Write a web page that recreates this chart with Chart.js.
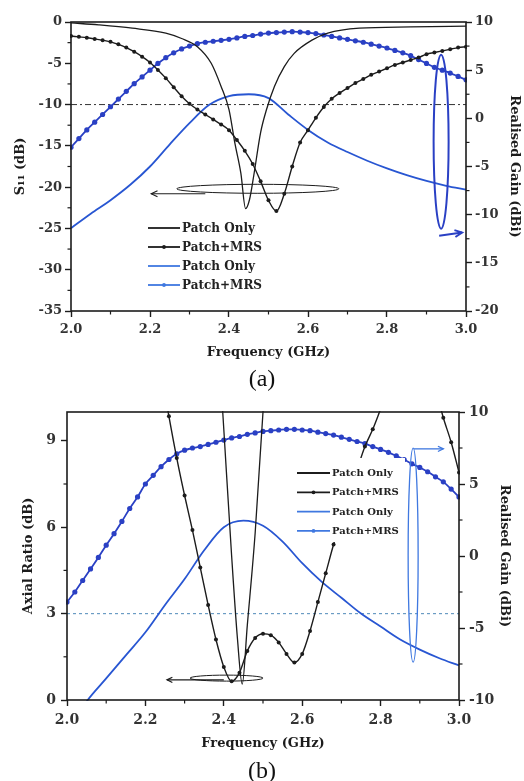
<!DOCTYPE html>
<html>
<head>
<meta charset="utf-8">
<script src="https://cdn.jsdelivr.net/npm/chart.js@4.4.1/dist/chart.umd.min.js"></script>
<style>
  body { margin: 0; background: #fff; width: 524px; height: 781px; position: relative; overflow: hidden; }
  .panel { position: absolute; left: 0; width: 524px; }
  .cap { position: absolute; left: 0; width: 524px; text-align: center; font-family: 'Liberation Serif', serif; font-size: 24px; line-height: 28px; color: #111; }
</style>
</head>
<body>
<div class="panel" style="top:0;height:365px"><canvas id="chartA" width="524" height="365"></canvas></div>
<div class="cap" style="top:364px">(a)</div>
<div class="panel" style="top:390px;height:370px"><canvas id="chartB" width="524" height="370"></canvas></div>
<div class="cap" style="top:756px">(b)</div>
<script>
// ---- data ----
const freqTicks = [2.0, 2.2, 2.4, 2.6, 2.8, 3.0];
const s11Ticks = [0, -5, -10, -15, -20, -25, -30, -35];
const gainTicksA = [10, 5, 0, -5, -10, -15, -20];
const arTicks = [0, 3, 6, 9];
const gainTicksB = [10, 5, 0, -5, -10];

// sweep used by the marked (Patch+MRS) traces
const freqStep = [2.00, 2.02, 2.04, 2.06, 2.08, 2.10, 2.12, 2.14, 2.16, 2.18,
  2.20, 2.22, 2.24, 2.26, 2.28, 2.30, 2.32, 2.34, 2.36, 2.38,
  2.40, 2.42, 2.44, 2.46, 2.48, 2.50, 2.52, 2.54, 2.56, 2.58,
  2.60, 2.62, 2.64, 2.66, 2.68, 2.70, 2.72, 2.74, 2.76, 2.78,
  2.80, 2.82, 2.84, 2.86, 2.88, 2.90, 2.92, 2.94, 2.96, 2.98, 3.00];

// (a) S11, patch only
const s11PatchFreq = [2.00, 2.07, 2.155, 2.24, 2.28, 2.32, 2.355, 2.38, 2.40, 2.415, 2.43, 2.442,
  2.452, 2.463, 2.48, 2.495, 2.515, 2.54, 2.565, 2.61, 2.65, 2.73, 2.86, 3.00];
const s11Patch = [-0.1, -0.35, -0.75, -1.35, -2.0, -3.0, -5.0, -7.8, -10.6, -14.7, -18.3, -22.6,
  -21.5, -18.5, -13.4, -10.6, -7.8, -5.4, -3.8, -2.2, -1.35, -0.75, -0.6, -0.5];
// (a) S11, patch + MRS
const s11Mrs = [-1.7, -1.8, -1.9, -2.05, -2.2, -2.4, -2.7, -3.1, -3.6, -4.2,
  -4.9, -5.8, -6.8, -7.9, -9.0, -9.9, -10.6, -11.2, -11.8, -12.4,
  -13.1, -14.3, -15.6, -17.2, -19.3, -21.6, -22.9, -20.8, -17.5, -14.6,
  -13.1, -11.6, -10.3, -9.3, -8.6, -8.0, -7.4, -6.9, -6.4, -6.0,
  -5.6, -5.2, -4.9, -4.6, -4.3, -3.9, -3.7, -3.5, -3.3, -3.1, -3.0];

// realised gain, patch only (coarser sweep)
const gainFreq = [2.00, 2.05, 2.10, 2.15, 2.20, 2.25, 2.30, 2.35, 2.40, 2.45, 2.50,
  2.55, 2.60, 2.65, 2.70, 2.75, 2.80, 2.85, 2.90, 2.95, 3.00];
const gainPatchA = [-11.4, -9.9, -8.5, -6.9, -5.0, -2.7, -0.5, 1.4, 2.3, 2.5, 2.1,
  0.4, -1.2, -2.5, -3.5, -4.4, -5.2, -5.9, -6.5, -7.0, -7.4];
const gainMrsA = [-3.0, -2.1, -1.2, -0.4, 0.4, 1.2, 2.0, 2.8, 3.6, 4.3,
  5.0, 5.7, 6.3, 6.8, 7.2, 7.5, 7.75, 7.9, 8.0, 8.1,
  8.2, 8.35, 8.5, 8.6, 8.75, 8.85, 8.9, 8.95, 9.0, 8.95,
  8.9, 8.8, 8.65, 8.5, 8.35, 8.2, 8.05, 7.9, 7.7, 7.5,
  7.3, 7.05, 6.8, 6.5, 6.1, 5.7, 5.3, 5.0, 4.7, 4.35, 4.0];

// (b) axial ratio
const arPatchFreq = [2.38, 2.40, 2.42, 2.435, 2.447, 2.46, 2.48, 2.50, 2.52];
const arPatch = [13.8, 9.4, 5.0, 2.1, 0.55, 2.6, 5.8, 10.0, 13.2];
const arMrsFreq = freqStep.slice(12);
const arMrs = [11.4, 9.85, 8.4, 7.1, 5.9, 4.6, 3.3, 2.1, 1.15, 0.65,
  0.95, 1.7, 2.15, 2.3, 2.25, 2.0, 1.6, 1.3, 1.6, 2.4,
  3.4, 4.4, 5.4, 6.3, 7.2, 8.0, 8.8, 9.4, 10.1, 10.8,
  11.4, 11.8, 12.0, 11.9, 11.5, 10.8, 9.8, 8.95, 7.9];
const gainPatchB = [-12.2, -10.1, -8.5, -6.9, -5.3, -3.4, -1.6, 0.4, 2.0, 2.45, 2.1,
  1.0, -0.5, -1.8, -2.9, -4.0, -4.9, -5.8, -6.5, -7.1, -7.6];
const gainMrsB = [-3.2, -2.5, -1.7, -0.9, -0.1, 0.75, 1.55, 2.4, 3.3, 4.1,
  5.0, 5.6, 6.2, 6.7, 7.1, 7.35, 7.5, 7.6, 7.75, 7.9,
  8.05, 8.2, 8.3, 8.45, 8.55, 8.65, 8.7, 8.75, 8.8, 8.8,
  8.75, 8.7, 8.6, 8.5, 8.4, 8.25, 8.1, 7.95, 7.8, 7.6,
  7.4, 7.2, 6.95, 6.7, 6.4, 6.15, 5.85, 5.5, 5.15, 4.65, 4.1];

const s11Limit = -10;
const arLimit = 3;

// ---- styling ----
const FONT = "'DejaVu Serif', serif";
const INK = '#1c1c1c';
const BLUE_DOT = '#2a40c4';
const BLUE_LINE = '#2856d2';
const BLUE_THIN = '#3f78e0';

const pts = (xs, ys) => xs.map((x, i) => ({ x, y: ys[i] }));

function series(label, data, axis, color, width, dot) {
  return {
    label, data, yAxisID: axis,
    borderColor: color, backgroundColor: color, borderWidth: width,
    pointRadius: dot, pointHoverRadius: dot, pointBorderWidth: 0,
    pointBackgroundColor: color,
    cubicInterpolationMode: 'monotone', clip: 1
  };
}

function xAxis(height, labelPad, titlePad, size) {
  return {
    type: 'linear', min: 2, max: 3,
    afterBuildTicks: s => { s.ticks = freqTicks.map(v => ({ value: v })); },
    afterFit: s => { s.height = height; },
    grid: { drawOnChartArea: false, tickLength: 6, tickWidth: 1.4, tickColor: INK },
    border: { display: false },
    ticks: { padding: labelPad, color: '#333', maxRotation: 0, autoSkip: false,
      font: { family: FONT, size, weight: 'bold' }, callback: v => v.toFixed(1) },
    title: { display: true, text: 'Frequency (GHz)', color: INK,
      font: { family: FONT, size: 13, weight: 'bold' }, padding: { top: 0, bottom: titlePad } }
  };
}

function yAxis(pos, min, max, ticks, width, labelPad, title, titlePad, size) {
  return {
    type: 'linear', position: pos, min, max,
    afterBuildTicks: s => { s.ticks = ticks.map(v => ({ value: v })); },
    afterFit: s => { s.width = width; },
    grid: { drawOnChartArea: false, tickLength: 6, tickWidth: 1.4, tickColor: INK },
    border: { display: false },
    ticks: { padding: labelPad, color: '#333',
      font: { family: FONT, size, weight: 'bold' }, callback: v => String(v) },
    title: { display: true, text: title, color: INK,
      font: { family: FONT, size: 13, weight: 'bold' }, padding: { top: titlePad, bottom: titlePad } }
  };
}

function arrowHead(ctx, x1, y1, x2, y2, len) {
  const ang = Math.atan2(y2 - y1, x2 - x1);
  ctx.beginPath();
  ctx.moveTo(x2 - len * Math.cos(ang - 0.45), y2 - len * Math.sin(ang - 0.45));
  ctx.lineTo(x2, y2);
  ctx.lineTo(x2 - len * Math.cos(ang + 0.45), y2 - len * Math.sin(ang + 0.45));
  ctx.stroke();
}

// frame, minor ticks, limit line, in-plot legend and callouts
const decor = {
  id: 'decor',
  beforeDatasetsDraw(chart, args, o) {
    const { ctx, chartArea: a } = chart;
    const r = o.limit;
    const y = chart.scales[r.axis].getPixelForValue(r.value);
    ctx.save();
    ctx.strokeStyle = r.color; ctx.lineWidth = r.width; ctx.setLineDash(r.dash);
    ctx.beginPath(); ctx.moveTo(a.left, y); ctx.lineTo(a.right, y); ctx.stroke();
    ctx.restore();
  },
  afterDatasetsDraw(chart, args, o) {
    const { ctx } = chart;
    const sx = chart.scales.x;
    ctx.save();
    // callouts
    o.callouts.forEach(c => {
      const sy = chart.scales[c.axis];
      ctx.strokeStyle = c.color; ctx.lineWidth = c.width;
      if (c.type === 'ellipse') {
        ctx.beginPath();
        ctx.ellipse(sx.getPixelForValue(c.x), sy.getPixelForValue(c.y), c.rx, c.ry, 0, 0, Math.PI * 2);
        ctx.stroke();
      } else {
        const x1 = sx.getPixelForValue(c.x1), y1 = sy.getPixelForValue(c.y1);
        const x2 = sx.getPixelForValue(c.x2), y2 = sy.getPixelForValue(c.y2);
        ctx.beginPath(); ctx.moveTo(x1, y1); ctx.lineTo(x2, y2); ctx.stroke();
        arrowHead(ctx, x1, y1, x2, y2, c.head);
      }
    });
    // legend
    const L = o.legend;
    if (L.fill) { ctx.fillStyle = '#fff'; ctx.fillRect(L.fill[0], L.fill[1], L.fill[2], L.fill[3]); }
    chart.data.datasets.forEach((ds, i) => {
      const y = L.y + i * L.gap;
      const col = ds.legendColor || ds.borderColor;
      ctx.strokeStyle = col; ctx.lineWidth = 1.8;
      ctx.beginPath(); ctx.moveTo(L.x, y); ctx.lineTo(L.x + L.len, y); ctx.stroke();
      if (ds.pointRadius > 0) {
        ctx.fillStyle = col;
        ctx.beginPath(); ctx.arc(L.x + L.len / 2, y, 1.9, 0, Math.PI * 2); ctx.fill();
      }
      ctx.fillStyle = '#222';
      ctx.font = `bold ${L.size}px ${FONT}`;
      ctx.textBaseline = 'middle';
      ctx.fillText(ds.label, L.x + L.len + 2, y + 0.5);
    });
    ctx.restore();
  },
  afterDraw(chart) {
    const { ctx, chartArea: a } = chart;
    ctx.save();
    ctx.strokeStyle = INK; ctx.lineWidth = 1.6;
    ctx.strokeRect(a.left, a.top, a.width, a.height);
    ctx.lineWidth = 1.2;
    Object.values(chart.scales).forEach(s => {
      const t = s.ticks.map(k => k.value);
      for (let i = 0; i < t.length - 1; i++) {
        const p = s.getPixelForValue((t[i] + t[i + 1]) / 2);
        ctx.beginPath();
        if (s.axis === 'x') { ctx.moveTo(p, a.bottom); ctx.lineTo(p, a.bottom + 3.5); }
        else if (s.position === 'left') { ctx.moveTo(a.left, p); ctx.lineTo(a.left - 3.5, p); }
        else { ctx.moveTo(a.right, p); ctx.lineTo(a.right + 3.5, p); }
        ctx.stroke();
      }
    });
    ctx.restore();
  }
};

function withLegendColor(ds, c) { ds.legendColor = c; return ds; }

// ---- (a) S11 and realised gain ----
new Chart(document.getElementById('chartA'), {
  type: 'line',
  data: {
    datasets: [
      series('Patch Only', pts(s11PatchFreq, s11Patch), 'y', INK, 1.3, 0),
      series('Patch+MRS', pts(freqStep, s11Mrs), 'y', INK, 1.4, 2),
      withLegendColor(series('Patch Only', pts(gainFreq, gainPatchA), 'y2', BLUE_LINE, 1.8, 0), BLUE_THIN),
      withLegendColor(series('Patch+MRS', pts(freqStep, gainMrsA), 'y2', BLUE_DOT, 1.8, 2.6), BLUE_THIN)
    ]
  },
  options: {
    responsive: false, animation: false, events: [],
    layout: { padding: { top: 22, left: 0, right: 0, bottom: 0 } },
    scales: {
      x: xAxis(54, 5, 5, 13),
      y: yAxis('left', -35, 0, s11Ticks, 71, 3, 'S\u2081\u2081 (dB)', 13, 13),
      y2: yAxis('right', -20, 10, gainTicksA, 58, 3, 'Realised Gain (dBi)', 2, 13)
    },
    plugins: {
      legend: { display: false }, tooltip: { enabled: false },
      decor: {
        limit: { axis: 'y', value: s11Limit, color: '#333', width: 1, dash: [6, 3, 2, 3] },
        legend: { x: 148, y: 228, gap: 19, len: 32, size: 12 },
        callouts: [
          { type: 'ellipse', axis: 'y', x: 2.473, y: -20.2, rx: 81, ry: 4.5, color: INK, width: 1 },
          { type: 'arrow', axis: 'y', x1: 2.34, y1: -20.8, x2: 2.203, y2: -20.8, head: 7, color: INK, width: 1.1 },
          { type: 'ellipse', axis: 'y', x: 2.937, y: -14.5, rx: 7.5, ry: 87, color: BLUE_DOT, width: 2 },
          { type: 'arrow', axis: 'y', x1: 2.932, y1: -25.9, x2: 2.99, y2: -25.5, head: 8, color: BLUE_DOT, width: 2 }
        ]
      }
    }
  },
  plugins: [decor]
});

// ---- (b) axial ratio and realised gain ----
new Chart(document.getElementById('chartB'), {
  type: 'line',
  data: {
    datasets: [
      series('Patch Only', pts(arPatchFreq, arPatch), 'y', INK, 1.3, 0),
      series('Patch+MRS', pts(arMrsFreq, arMrs), 'y', INK, 1.4, 2),
      withLegendColor(series('Patch Only', pts(gainFreq, gainPatchB), 'y2', BLUE_LINE, 1.8, 0), BLUE_THIN),
      withLegendColor(series('Patch+MRS', pts(freqStep, gainMrsB), 'y2', BLUE_DOT, 1.8, 2.6), BLUE_THIN)
    ]
  },
  options: {
    responsive: false, animation: false, events: [],
    layout: { padding: { top: 22, left: 0, right: 0, bottom: 0 } },
    scales: {
      x: xAxis(60, 6, 9, 14),
      y: yAxis('left', 0, 10, arTicks, 67, 5, 'Axial Ratio (dB)', 21, 14),
      y2: yAxis('right', -10, 10, gainTicksB, 65, 4, 'Realised Gain (dBi)', 12, 14)
    },
    plugins: {
      legend: { display: false }, tooltip: { enabled: false },
      decor: {
        limit: { axis: 'y', value: arLimit, color: '#6b9cc4', width: 1.2, dash: [3, 3] },
        legend: { x: 297, y: 83, gap: 19.3, len: 33, size: 10, fill: [293, 68, 112, 84] },
        callouts: [
          { type: 'ellipse', axis: 'y', x: 2.407, y: 0.76, rx: 36.5, ry: 3, color: INK, width: 1 },
          { type: 'arrow', axis: 'y', x1: 2.40, y1: 0.7, x2: 2.255, y2: 0.7, head: 6, color: INK, width: 1.2 },
          { type: 'ellipse', axis: 'y', x: 2.883, y: 5.03, rx: 5, ry: 107, color: BLUE_THIN, width: 1.3 },
          { type: 'arrow', axis: 'y', x1: 2.885, y1: 8.72, x2: 2.96, y2: 8.72, head: 6, color: BLUE_THIN, width: 1.3 }
        ]
      }
    }
  },
  plugins: [decor]
});
</script>
</body>
</html>
